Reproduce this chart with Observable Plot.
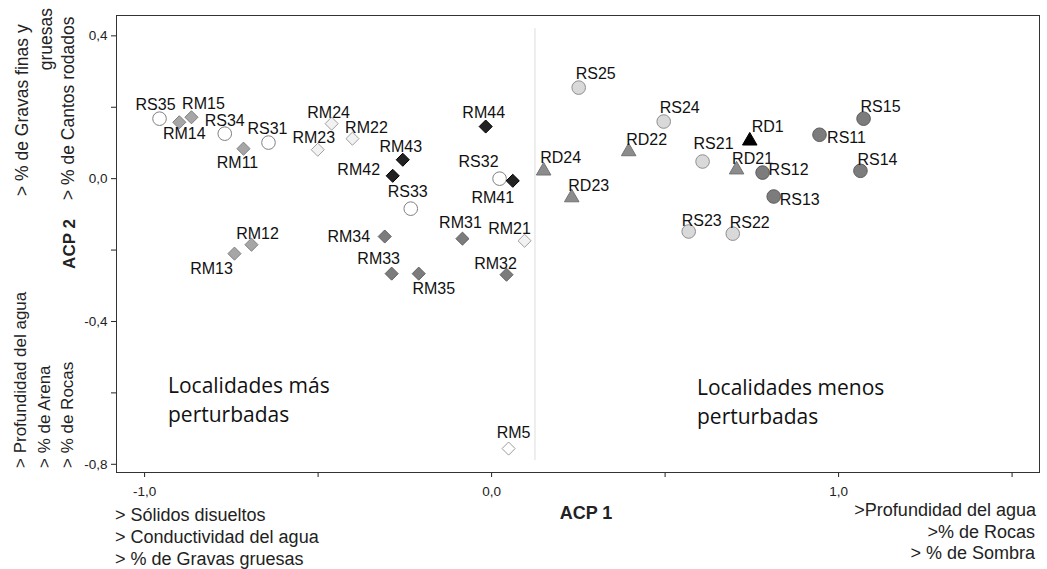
<!DOCTYPE html>
<html><head><meta charset="utf-8">
<script src="https://cdn.jsdelivr.net/npm/d3@7"></script>
<script src="https://cdn.jsdelivr.net/npm/@observablehq/plot@0.6"></script>
<style>body{margin:0;background:#fff} svg{display:block}</style>
</head><body><div id="chart"></div>
<script>
// ---- data ----
const names = ["RS11","RS12","RS13","RS14","RS15","RS21","RS22","RS23","RS24","RS25","RS31","RS32","RS33","RS34","RS35",
  "RM11","RM12","RM13","RM14","RM15","RM21","RM22","RM23","RM24","RM31","RM32","RM33","RM34","RM35","RM41","RM42","RM43","RM44","RM5",
  "RD1","RD21","RD22","RD23","RD24"];
const acp1 = [0.945,0.781,0.813,1.063,1.072,0.608,0.695,0.568,0.496,0.251,-0.643,0.023,-0.233,-0.769,-0.957,
  -0.715,-0.692,-0.741,-0.900,-0.865,0.095,-0.401,-0.501,-0.461,-0.084,0.043,-0.288,-0.308,-0.210,0.061,-0.285,-0.256,-0.017,0.049,
  0.744,0.706,0.395,0.231,0.150];
const acp2 = [0.123,0.017,-0.050,0.022,0.168,0.048,-0.154,-0.148,0.160,0.255,0.101,0.000,-0.084,0.126,0.168,
  0.084,-0.185,-0.210,0.158,0.172,-0.174,0.112,0.081,0.154,-0.168,-0.269,-0.266,-0.162,-0.266,-0.006,0.008,0.053,0.146,-0.756,
  0.106,0.025,0.076,-0.053,0.022];
const groups = ["RS1","RS1","RS1","RS1","RS1","RS2","RS2","RS2","RS2","RS2","RS3","RS3","RS3","RS3","RS3",
  "RM1","RM1","RM1","RM1","RM1","RM2","RM2","RM2","RM2","RM3","RM3","RM3","RM3","RM3","RM4","RM4","RM4","RM4","RM5",
  "RD1","RD2","RD2","RD2","RD2"];
const xTicks = [-1, -0.5, 0, 0.5, 1, 1.5];
const xTickLabels = [-1, 0, 1];
const yTicks = [-0.8, -0.6, -0.4, -0.2, 0, 0.2, 0.4];
const yTickLabels = [-0.8, -0.4, 0, 0.4];
const separatorX = [0.125];
const separatorSpan = [-0.79, 0.42];
const xDomain = [-1.081, 1.579];
const yDomain = [-0.823, 0.457];

// ---- styles ----
const groupStyle = {
  RS1: {symbol: "circle", r: 6.8, fill: "#7c7c7c", stroke: "#5c5c5c"},
  RS2: {symbol: "circle", r: 6.8, fill: "#d9d9d9", stroke: "#8f8f8f"},
  RS3: {symbol: "circle", r: 6.8, fill: "#ffffff", stroke: "#808080"},
  RM1: {symbol: "diamond2", r: 5.9, fill: "#a6a6a6", stroke: "#808080"},
  RM2: {symbol: "diamond2", r: 5.9, fill: "#f2f2f2", stroke: "#a0a0a0"},
  RM3: {symbol: "diamond2", r: 5.9, fill: "#7c7c7c", stroke: "#626262"},
  RM4: {symbol: "diamond2", r: 5.9, fill: "#222222", stroke: "#000000"},
  RM5: {symbol: "diamond2", r: 5.9, fill: "#ffffff", stroke: "#9a9a9a"},
  RD1: {symbol: "triangle", r: 5.4, fill: "#000000", stroke: "#000000"},
  RD2: {symbol: "triangle", r: 5.4, fill: "#8c8c8c", stroke: "#737373"}
};
// label offsets (dx, dy) in pixels from the marker
const labelOffset = {
  RS35:[-4,-14], RM14:[5,12], RM15:[12,-13], RS34:[0,-13], RM11:[-6,14], RS31:[-1,-14],
  RM24:[-3,-11], RM23:[-4,-12], RM22:[14,-11], RM43:[-2,-13], RM42:[-34,-6], RM44:[-2,-14],
  RS32:[-21,-17], RM41:[-20,17], RS33:[-3,-17], RM34:[-36,0], RM31:[-2,-16], RM21:[-15,-12],
  RM33:[-13,-15], RM35:[15,15], RM32:[-11,-11], RM12:[6,-11], RM13:[-23,15], RM5:[5,-16],
  RS25:[17,-14], RS24:[16,-14], RD22:[18,-12], RD24:[17,-13], RD23:[17,-12], RS21:[11,-18],
  RD1:[18,-14], RD21:[16,-11], RS23:[13,-11], RS22:[17,-11], RS15:[17,-12], RS11:[27,3],
  RS12:[26,-3], RS13:[26,3], RS14:[17,-11]
};

const rows = names.map((n, i) => ({name: n, acp1: acp1[i], acp2: acp2[i], group: groups[i]}));
const fmt = d => d.toFixed(1).replace(".", ",");
const labeled = (list) => (d) => list.some(v => Math.abs(v - d) < 1e-9) ? fmt(d) : "";
const FONT = "'Liberation Sans', Arial, sans-serif";

const marks = [
  Plot.ruleX(separatorX, {y1: separatorSpan[0], y2: separatorSpan[1], stroke: "#dedede", strokeWidth: 1}),
  Plot.frame({stroke: "#333"}),
  ...Object.keys(groupStyle).map(g => {
    const s = groupStyle[g];
    return Plot.dot(rows.filter(r => r.group === g), {x: "acp1", y: "acp2", symbol: s.symbol, r: s.r, fill: s.fill, stroke: s.stroke, strokeWidth: 1});
  }),
  ...rows.map(r => {
    const o = labelOffset[r.name] || [0, -14];
    return Plot.text([r], {x: "acp1", y: "acp2", text: "name", dx: o[0], dy: o[1], fontSize: 16, fill: "#111"});
  })
];

const chart = Plot.plot({
  width: 1047, height: 569,
  marginLeft: 116, marginRight: 8, marginTop: 15, marginBottom: 97,
  style: {fontFamily: FONT, fontSize: "13.5px", color: "#222", background: "#fff"},
  x: {domain: xDomain, ticks: xTicks, tickFormat: labeled(xTickLabels), tickSize: 5, tickPadding: 9, label: null},
  y: {domain: yDomain, ticks: yTicks, tickFormat: labeled(yTickLabels), tickSize: 5, tickPadding: 4, label: null},
  marks
});
document.getElementById("chart").appendChild(chart);

// ---- annotations (axis titles and variable notes) ----
const annotations = [
  {t: "> % de Gravas finas y", x: 22, y: 196, rot: true, anchor: "start", size: 17.5},
  {t: "gruesas", x: 46, y: 8, rot: true, anchor: "end", size: 17.5},
  {t: "> % de Cantos rodados", x: 68, y: 200, rot: true, anchor: "start", size: 17.5},
  {t: "ACP 2", x: 69, y: 244, rot: true, anchor: "middle", bold: true, size: 17},
  {t: "> Profundidad del agua", x: 20, y: 468, rot: true, anchor: "start", size: 17},
  {t: "> % de Arena", x: 44, y: 468, rot: true, anchor: "start", size: 17},
  {t: "> % de Rocas", x: 67, y: 468, rot: true, anchor: "start", size: 17},
  {t: "> Sólidos disueltos", x: 115, y: 515, anchor: "start", size: 18},
  {t: "> Conductividad del agua", x: 115, y: 537, anchor: "start", size: 18},
  {t: "> % de Gravas gruesas", x: 115, y: 559, anchor: "start", size: 18},
  {t: "ACP 1", x: 586, y: 513, anchor: "middle", bold: true, size: 18},
  {t: ">Profundidad del agua", x: 1036, y: 510, anchor: "end", size: 18},
  {t: ">% de Rocas", x: 1035, y: 532, anchor: "end", size: 18},
  {t: "> % de Sombra", x: 1035, y: 553, anchor: "end", size: 18}
];
const svg = d3.select(chart);
const g = svg.append("g").attr("font-family", FONT).attr("fill", "#222");
for (const a of annotations) {
  g.append("text")
    .attr("transform", a.rot ? `translate(${a.x},${a.y}) rotate(-90)` : `translate(${a.x},${a.y})`)
    .attr("text-anchor", a.anchor)
    .attr("dominant-baseline", "central")
    .attr("font-size", a.size)
    .attr("font-weight", a.bold ? "bold" : null)
    .text(a.t);
}
const regionNotes = [
  {lines: ["Localidades más", "perturbadas"], x: 168, y: 393},
  {lines: ["Localidades menos", "perturbadas"], x: 697, y: 395}
];
for (const r of regionNotes) {
  r.lines.forEach((line, i) => {
    g.append("text")
      .attr("x", r.x).attr("y", r.y + i * 29)
      .attr("text-anchor", "start")
      .attr("font-family", "'Open Sans', sans-serif")
      .attr("font-size", 21)
      .attr("fill", "#111")
      .text(line);
  });
}
</script>
</body></html>
